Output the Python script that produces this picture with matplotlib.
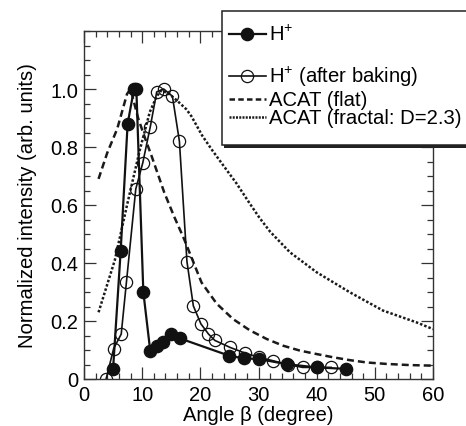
import numpy as np
import matplotlib.pyplot as plt
from matplotlib.lines import Line2D
from matplotlib.patches import Rectangle
from matplotlib.ticker import MultipleLocator

plt.rcParams['font.family'] = ['Liberation Sans', 'DejaVu Sans']
plt.rcParams['mathtext.default'] = 'regular'

# H+ (filled circles)
h_x = [5.0, 6.3, 7.5, 8.6, 9.0, 10.2, 11.4, 12.5, 13.6, 15.0, 16.5,
       25.0, 27.5, 30.0, 34.9, 40.0, 45.0]
h_y = [0.035, 0.44, 0.88, 1.0, 1.0, 0.30, 0.095, 0.115, 0.128, 0.155, 0.14,
       0.08, 0.071, 0.069, 0.051, 0.04, 0.035]

# H+ after baking (open circles)
bake_x = [3.8, 5.1, 6.4, 7.3, 8.9, 10.1, 11.4, 12.5, 13.7, 15.2, 16.4, 17.7,
          18.8, 20.1, 21.4, 22.5, 25.1, 27.6, 30.0, 32.5, 35.0, 37.6, 40.0, 42.5]
bake_y = [0.0, 0.105, 0.155, 0.335, 0.655, 0.745, 0.87, 0.99, 1.0, 0.975, 0.82, 0.405,
          0.252, 0.19, 0.155, 0.133, 0.109, 0.09, 0.075, 0.063, 0.05, 0.04, 0.04, 0.04]

# ACAT (flat)
flat_x = [2.5, 4.0, 5.7, 7.4, 8.0, 9.3, 10.5, 11.6, 13.8, 15.5, 17.2, 20.2,
          22.8, 25.6, 28.5, 31.4, 34.2, 37.1, 40.0, 42.8, 45.7, 48.6, 52.0, 56.0, 60.0]
flat_y = [0.69, 0.78, 0.862, 0.983, 1.0, 0.90, 0.83, 0.77, 0.643, 0.56, 0.483, 0.333,
          0.26, 0.207, 0.168, 0.138, 0.115, 0.098, 0.086, 0.075, 0.065, 0.057, 0.052, 0.048, 0.046]

# ACAT (fractal: D=2.3)
frac_x = [2.5, 5.3, 7.4, 9.6, 11.3, 12.5, 13.3, 14.5, 16.0, 17.6, 18.5, 20.3,
          22.0, 24.0, 26.2, 28.5, 30.2, 32.0, 35.4, 40.0, 45.7, 51.4, 57.2, 60.0]
frac_y = [0.23, 0.41, 0.60, 0.79, 0.92, 0.975, 0.995, 0.985, 0.96, 0.93, 0.905, 0.84,
          0.79, 0.735, 0.675, 0.605, 0.555, 0.508, 0.437, 0.368, 0.299, 0.236, 0.195, 0.172]

W, H = 466, 427
fig = plt.figure(figsize=(W / 100, H / 100), dpi=100)
ax = fig.add_axes([84 / W, 1 - 380 / H, (433 - 84) / W, (380 - 32) / H])

flat_style = dict(color='#1a1a1a', lw=1.8, dashes=(2.8, 1.6))
frac_style = dict(color='#1a1a1a', lw=1.8, dashes=(1.0, 0.8))
bake_style = dict(color='#111111', lw=1.2, marker='o', ms=8.8,
                  mfc='none', mec='#111111', mew=0.9)
h_style = dict(color='#111111', lw=1.6, marker='o', ms=8.8,
               mfc='#111111', mec='#111111')

ax.plot(flat_x, flat_y, **flat_style)
ax.plot(frac_x, frac_y, **frac_style)
ax.plot(bake_x, bake_y, **bake_style)
ax.plot(h_x, h_y, **h_style)

ax.set_xlim(0, 60)
ax.set_ylim(0, 1.2)
ax.set_xticks([0, 10, 20, 30, 40, 50, 60])
ax.set_yticks([0, 0.2, 0.4, 0.6, 0.8, 1.0])
ax.set_yticklabels(['0', '0.2', '0.4', '0.6', '0.8', '1.0'])
ax.xaxis.set_minor_locator(MultipleLocator(2))
ax.yaxis.set_minor_locator(MultipleLocator(0.05))
ax.tick_params(which='both', direction='in', top=True, right=True,
               labelsize=14.5, color='#333333', width=0.9)
ax.tick_params(which='major', length=8.5, pad=4)
ax.tick_params(which='minor', length=4.5)
for s in ax.spines.values():
    s.set_linewidth(1.0)
    s.set_color('#333333')

ax.set_xlabel('Angle β (degree)', fontsize=14.5, labelpad=1)
ax.set_ylabel('Normalized intensity (arb. units)', fontsize=14.6, labelpad=10)

# legend drawn by hand (box runs past the right edge)
def fx(px):
    return px / W

def fy(py):
    return 1 - py / H

tf = fig.transFigure
fig.add_artist(Rectangle((fx(224), fy(149)), fx(260), fy(14) - fy(149),
                         transform=tf, facecolor='#222222', edgecolor='none', zorder=5))
fig.add_artist(Rectangle((fx(222), fy(146)), fx(260), fy(12) - fy(146),
                         transform=tf, facecolor='white', edgecolor='#222222',
                         lw=1.1, zorder=6))

rows = [
    (35, 'H$^{+}$', h_style),
    (77, 'H$^{+}$ (after baking)', bake_style),
    (100, 'ACAT (flat)', dict(flat_style, dashes=(2.2, 1.3))),
    (118, 'ACAT (fractal: D=2.3)', dict(frac_style, dashes=(0.8, 0.5))),
]
for py, label, style in rows:
    line_kw = {k: v for k, v in style.items() if k not in ('marker', 'ms', 'mfc', 'mec', 'mew')}
    fig.add_artist(Line2D([fx(229), fx(266)], [fy(py), fy(py)], transform=tf,
                          zorder=7, **line_kw))
    if 'marker' in style:
        fig.add_artist(Line2D([fx(247)], [fy(py)], transform=tf, zorder=8, ls='none',
                              marker='o', ms=style['ms'], mfc=style['mfc'],
                              mec=style['mec'], mew=style.get('mew', 1.0)))
    fig.text(fx(269), fy(py), label, fontsize=14.6, va='center', ha='left', zorder=9)

fig.savefig('out.png', dpi=100)
